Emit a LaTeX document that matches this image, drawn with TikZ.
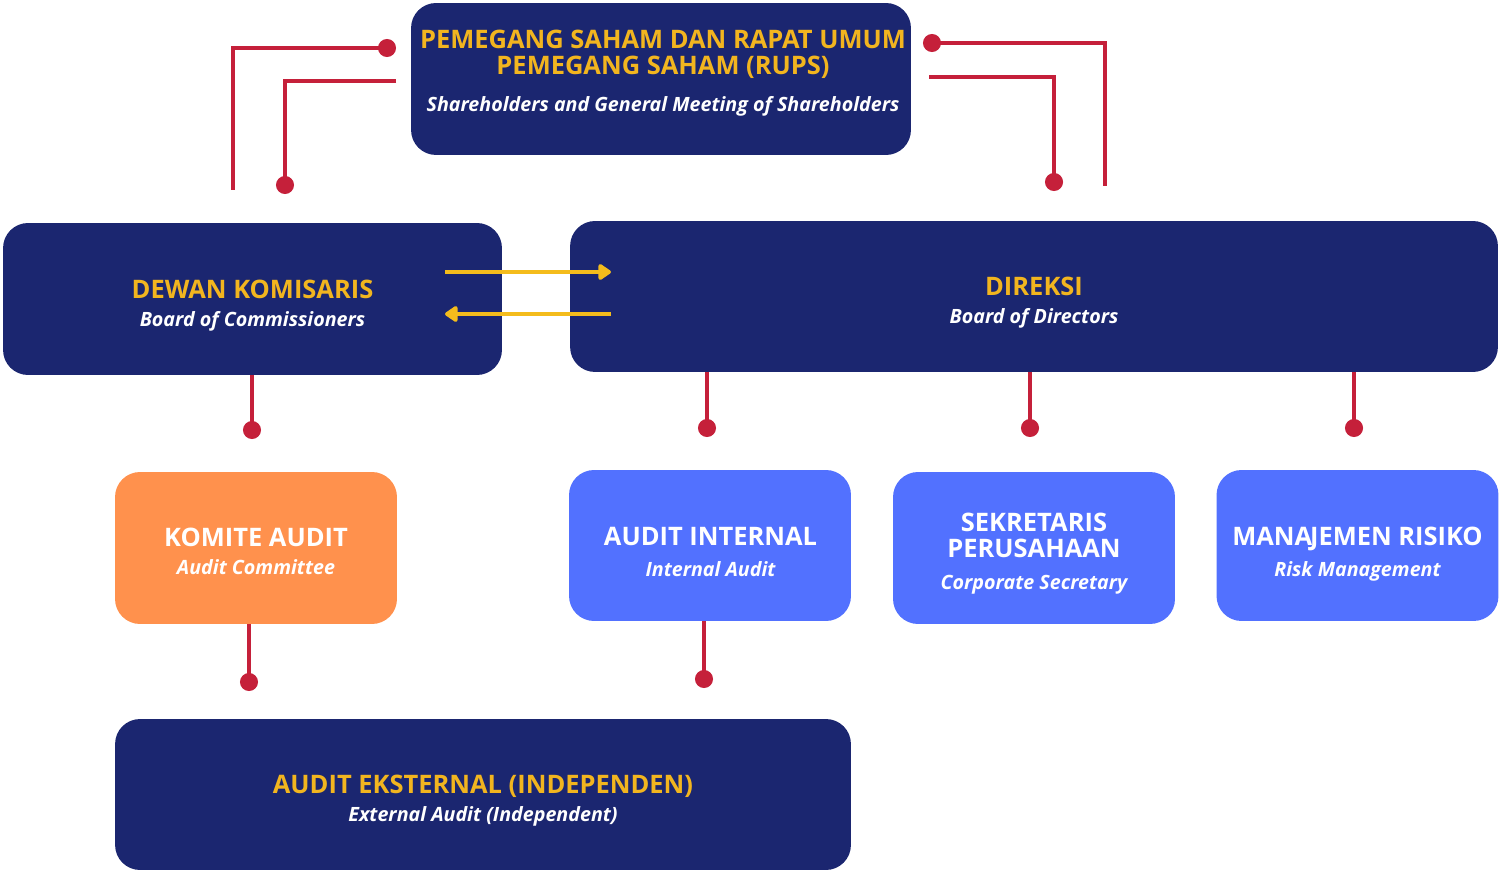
\documentclass[tikz,border=0pt]{standalone}
\usepackage{fontspec}
\setmainfont{Open Sans}
\usetikzlibrary{arrows.meta, positioning}

\definecolor{navy}{HTML}{1B2670}
\definecolor{gold}{HTML}{F2B51F}
\definecolor{peach}{HTML}{FF914D}
\definecolor{sky}{HTML}{5271FF}
\definecolor{wire}{HTML}{C5203A}
\definecolor{amber}{HTML}{F4BC1C}

\tikzset{
  box/.style={rounded corners=0.5cm, inner sep=0pt, fill=navy},
  navybox/.style={box, fill=navy},
  unitbox/.style={box, fill=sky, minimum width=5.64cm, minimum height=3.02cm},
  caption/.style={align=center, inner sep=0pt, font=\fontsize{14.5}{14.74}\selectfont},
  link/.style={draw=wire, line width=2.3pt},
  dot/.style={link, -{Circle[length=0.36cm]}},
  flow/.style={draw=amber, line width=2.3pt, -{Triangle[length=0.28cm, width=0.36cm, round]}}
}

\newcommand{\titleline}[2]{{\color{#1}\bfseries\fontsize{14.5}{14.74}\selectfont #2}}
\newcommand{\engline}[1]{{\color{white}\bfseries\itshape\fontsize{11.2}{13}\selectfont #1}}

\begin{document}
\begin{tikzpicture}[x=0.02cm, y=-0.02cm]
  \useasboundingbox (0,0) rectangle (1500,874);

  % boxes
  \node[navybox, minimum width=10cm, minimum height=3.04cm] (rups) at (661,79) {};
  \node[navybox, minimum width=9.98cm, minimum height=3.04cm] (dekom) at (252.5,299) {};
  \node[navybox, minimum width=18.56cm, minimum height=3.02cm] (direksi) at (1034,296.5) {};
  \node[box, fill=peach, minimum width=5.64cm, minimum height=3.04cm] (komite) at (256,548) {};
  \node[unitbox] (ai) at (710,545.5) {};
  \node[unitbox, minimum height=3.04cm] (sekper) at (1034,548) {};
  \node[unitbox] (mr) at (1357.5,545.5) {};
  \node[navybox, minimum width=14.72cm, minimum height=3.02cm] (ae) at (483,794.5) {};

  % texts
  \node[caption] (rupstext) at (663,73) {\titleline{gold}{PEMEGANG SAHAM DAN RAPAT UMUM}\\\titleline{gold}{PEMEGANG SAHAM (RUPS)}\\[6.2pt]\engline{Shareholders and General Meeting of Shareholders}};
  \node[caption] (dekomtext) at (252.5,306) {\titleline{gold}{DEWAN KOMISARIS}\\[1.1pt]\engline{Board of Commissioners}};
  \node[caption] (direksitext) at (1034,303) {\titleline{gold}{DIREKSI}\\[1.1pt]\engline{Board of Directors}};
  \node[caption] (komitetext) at (256,551) {\titleline{white}{KOMITE AUDIT}\\[1.1pt]\engline{Audit Committee}};
  \node[caption] (aitext) at (710.5,551.5) {\titleline{white}{AUDIT INTERNAL}\\[2.9pt]\engline{Internal Audit}};
  \node[caption] (sekpertext) at (1034,554) {\titleline{white}{SEKRETARIS}\\\titleline{white}{PERUSAHAAN}\\[3.4pt]\engline{Corporate Secretary}};
  \node[caption] (mrtext) at (1357.5,554) {\titleline{white}{MANA\kern-1.2pt JEMEN RISIKO}\\[2.5pt]\engline{Risk Management}};
  \node[caption] (aetext) at (483,801) {\titleline{gold}{AUDIT EKSTERNAL (INDEPENDEN)}\\[1.1pt]\engline{External Audit (Independent)}};

  % wire ends
  \coordinate (lo1) at (233,190);
  \coordinate (lo2) at (396,48);
  \coordinate (li1) at (396,81);
  \coordinate (li2) at (285,194);
  \coordinate (ro1) at (923,43);
  \coordinate (ro2) at (1105,186);
  \coordinate (ri1) at (929,77);
  \coordinate (ri2) at (1054,191);

  \draw[dot] (lo1) |- (lo2);
  \draw[dot] (li1) -| (li2);
  \draw[link, {Circle[length=0.36cm]}-] (ro1) -| (ro2);
  \draw[dot] (ri1) -| (ri2);

  % arrows between boards
  \coordinate (a1) at (445,272);
  \coordinate (a2) at (611,272);
  \coordinate (b1) at (611,314);
  \coordinate (b2) at (445,314);
  \draw[flow] (a1) -- (a2);
  \draw[flow] (b1) -- (b2);

  % down links
  \coordinate (d1) at (252,439);
  \coordinate (d2) at (707,437);
  \coordinate (d3) at (1030,437);
  \coordinate (d4) at (1354,437);
  \coordinate (d5) at (249,691);
  \coordinate (d6) at (704,688);
  \draw[dot] (dekom.south -| d1) -- (d1);
  \foreach \p in {d2, d3, d4}
    \draw[dot] (direksi.south -| \p) -- (\p);
  \draw[dot] (komite.south -| d5) -- (d5);
  \draw[dot] (ai.south -| d6) -- (d6);
\end{tikzpicture}
\end{document}
